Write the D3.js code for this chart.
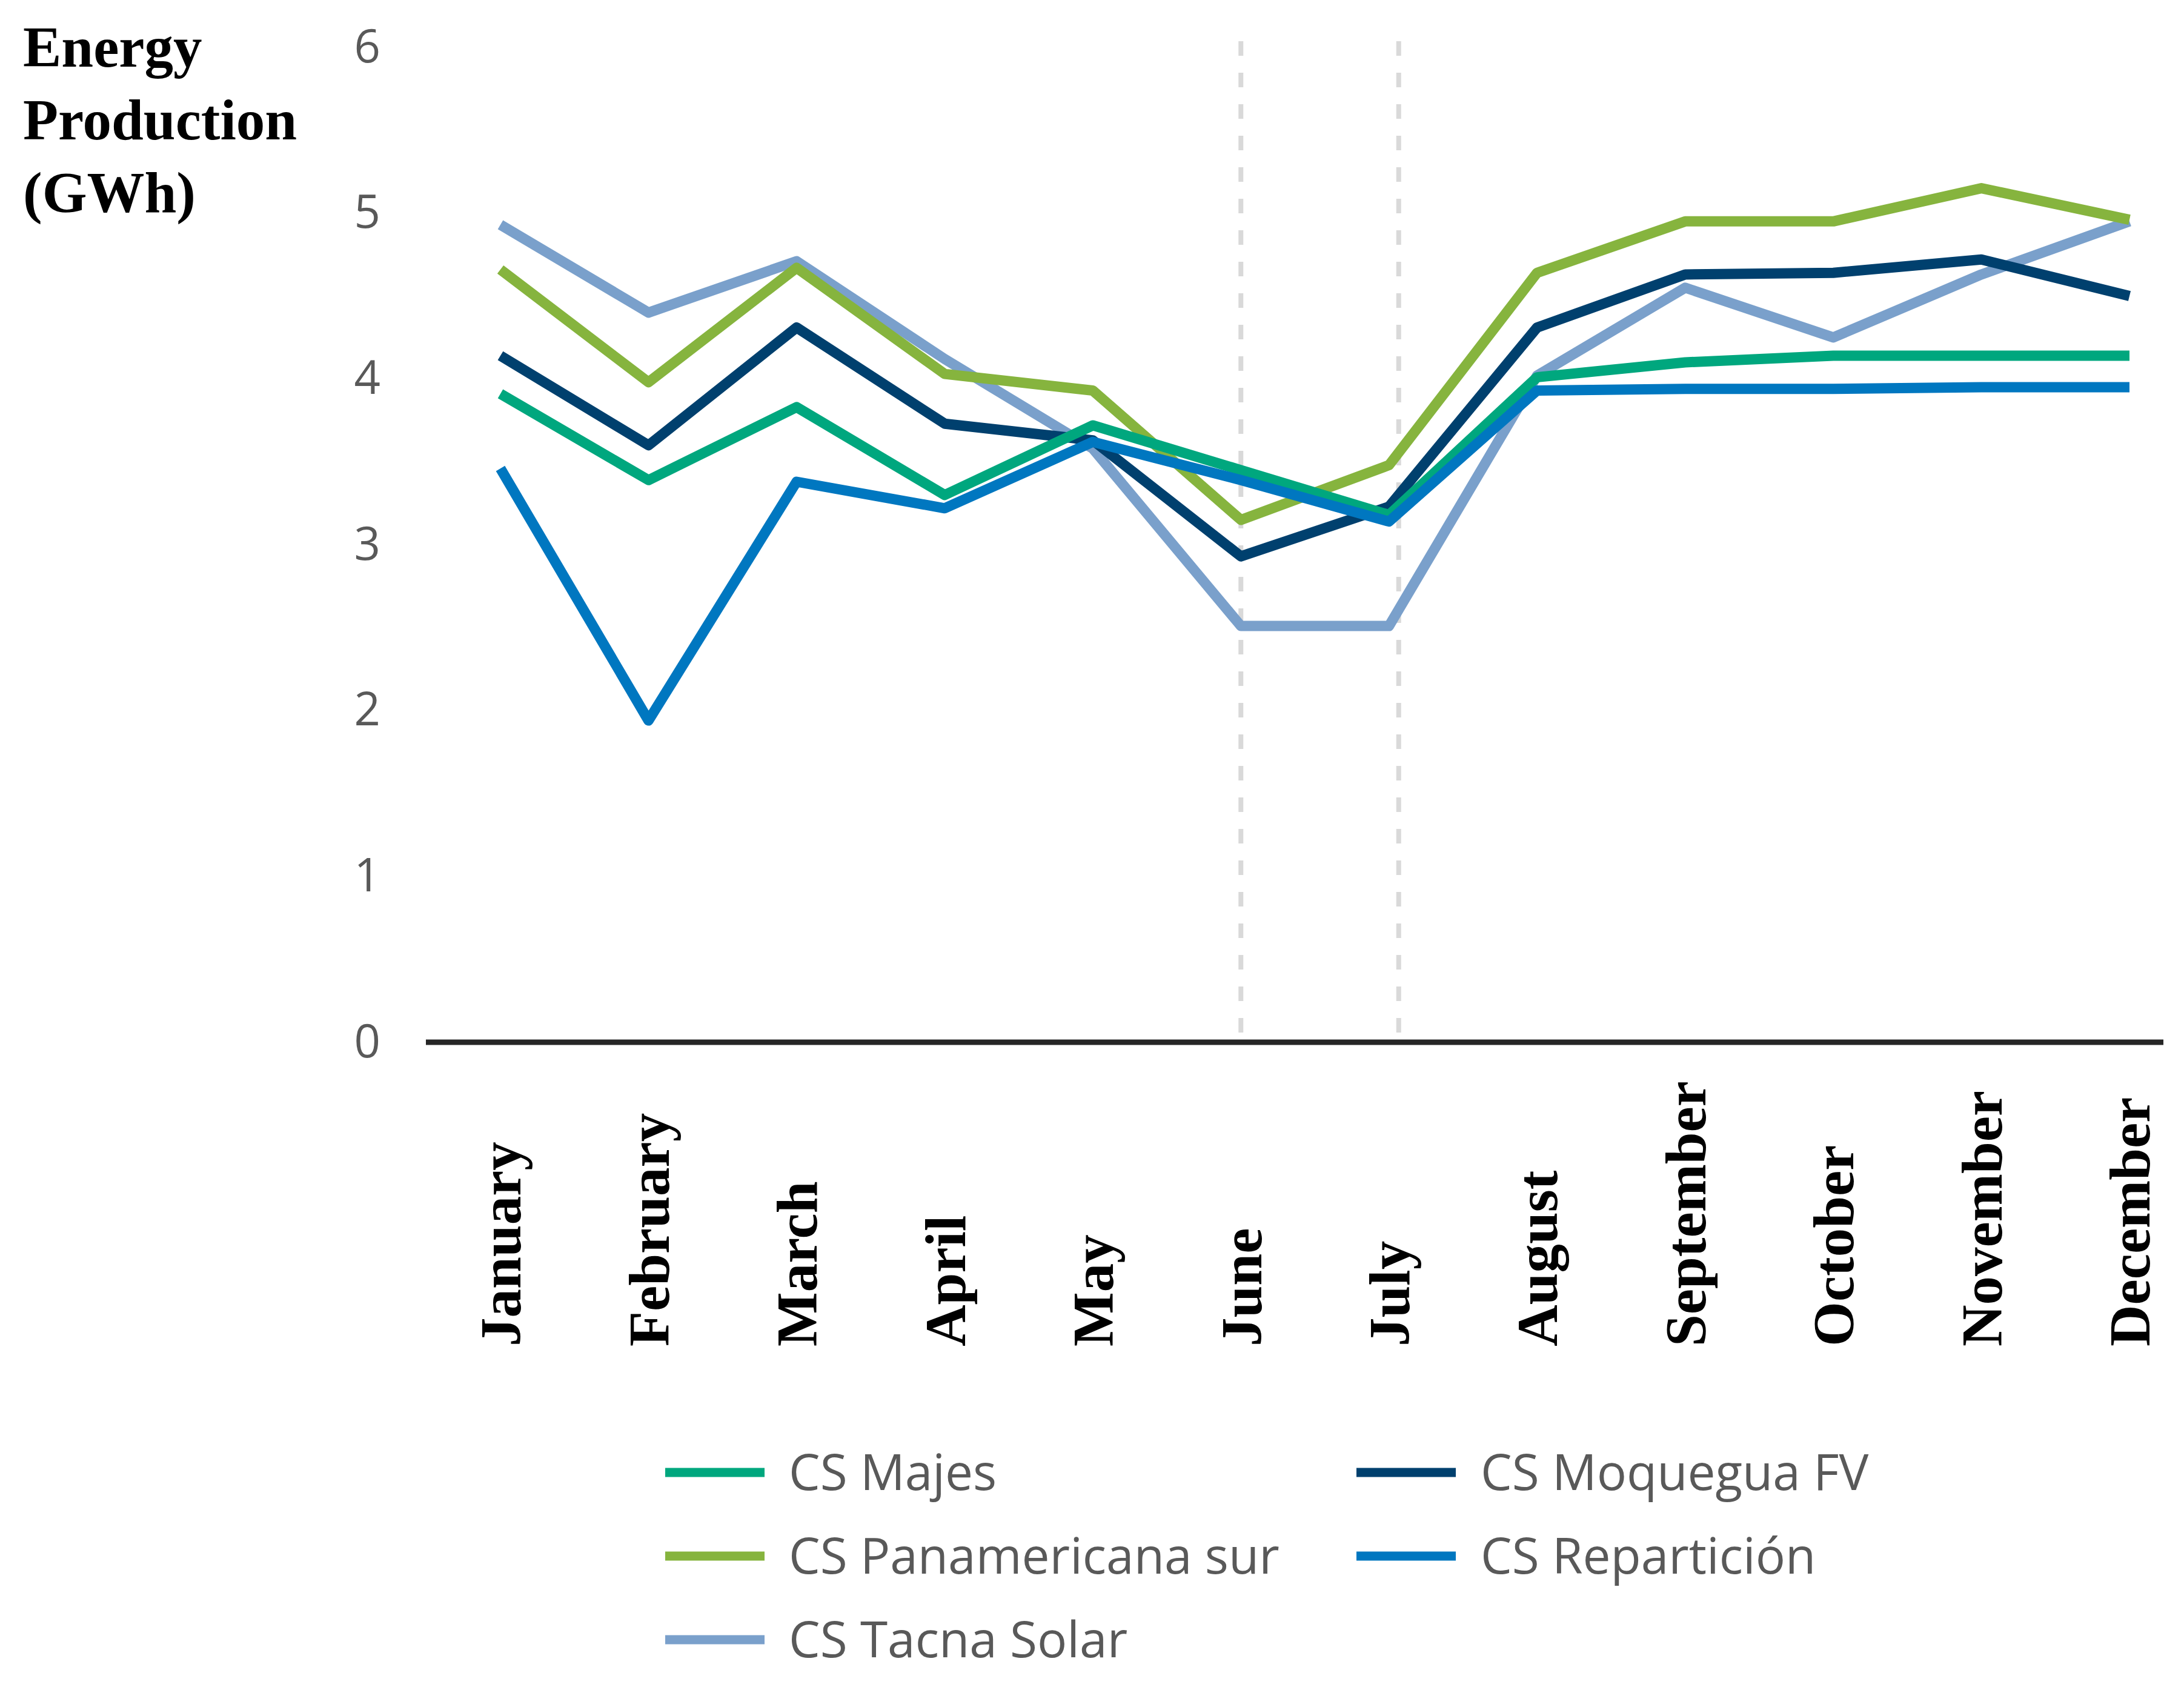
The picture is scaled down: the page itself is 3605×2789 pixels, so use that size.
<!DOCTYPE html>
<html>
<head>
<meta charset="utf-8">
<script src="https://cdn.jsdelivr.net/npm/d3@7"></script>
<style>
  body { margin: 0; background: #fff; }
</style>
</head>
<body>
<svg id="chart" width="3605" height="2789"></svg>
<script>
const months = ['January', 'February', 'March', 'April', 'May', 'June', 'July',
  'August', 'September', 'October', 'November', 'December'];

const majes = [3.91, 3.39, 3.83, 3.30, 3.72, 3.45, 3.18, 4.01, 4.10, 4.14, 4.14, 4.14];
const moquegua = [4.14, 3.60, 4.31, 3.73, 3.63, 2.93, 3.23, 4.31, 4.63, 4.64, 4.72, 4.50];
const panamericana = [4.66, 3.98, 4.67, 4.03, 3.93, 3.15, 3.48, 4.64, 4.95, 4.95, 5.15, 4.96];
const reparticion = [3.46, 1.94, 3.38, 3.22, 3.62, 3.39, 3.14, 3.93, 3.94, 3.94, 3.95, 3.95];
const tacna = [4.93, 4.40, 4.71, 4.12, 3.58, 2.51, 2.51, 4.02, 4.55, 4.25, 4.63, 4.95];

const yTicks = [0, 1, 2, 3, 4, 5, 6];
const markedMonths = ['June', 'July'];

const series = [
  { name: 'CS Majes', values: majes, color: '#00a77e' },
  { name: 'CS Moquegua FV', values: moquegua, color: '#00406e' },
  { name: 'CS Panamericana sur', values: panamericana, color: '#86b43e' },
  { name: 'CS Repartición', values: reparticion, color: '#0077c0' },
  { name: 'CS Tacna Solar', values: tacna, color: '#7aa0cb' }
];
// drawing order (back to front)
const drawOrder = ['CS Tacna Solar', 'CS Panamericana sur', 'CS Moquegua FV', 'CS Majes', 'CS Repartición'];

const svg = d3.select('#chart');
svg.append('rect').attr('width', 3605).attr('height', 2789).attr('fill', '#fff');

const x = d3.scalePoint().domain(months).range([826, 3515]);
const y = d3.scaleLinear().domain([0, 6]).range([1720, 78]);

// dashed reference lines
svg.append('g')
  .selectAll('line')
  .data(markedMonths)
  .enter()
  .append('line')
  .attr('x1', (d, i) => x(d) + (i === 1 ? 16 : 0))
  .attr('x2', (d, i) => x(d) + (i === 1 ? 16 : 0))
  .attr('y1', 68)
  .attr('y2', y(0))
  .attr('stroke', '#d9d9d9')
  .attr('stroke-width', 8)
  .attr('stroke-dasharray', '24 28');

// y axis
const yAxis = d3.axisLeft(y).tickValues(yTicks).tickFormat(d3.format('d')).tickSize(0).tickPadding(12);
svg.append('g')
  .attr('transform', 'translate(640,0)')
  .call(yAxis)
  .call(g => g.select('.domain').remove())
  .selectAll('text')
  .attr('font-family', '"Open Sans", sans-serif')
  .attr('font-size', 76)
  .attr('fill', '#595959');

// x axis line
svg.append('line')
  .attr('x1', 703)
  .attr('x2', 3571)
  .attr('y1', y(0))
  .attr('y2', y(0))
  .attr('stroke', '#262626')
  .attr('stroke-width', 9);

// month labels
svg.append('g')
  .selectAll('text')
  .data(months)
  .enter()
  .append('text')
  .attr('transform', d => `translate(${x(d)},2222) rotate(-90)`)
  .attr('dy', '0.35em')
  .attr('text-anchor', 'start')
  .attr('font-family', '"Liberation Serif", serif')
  .attr('font-weight', 'bold')
  .attr('font-size', 95)
  .attr('fill', '#000')
  .text(d => d);

// lines
const line = d3.line()
  .x((d, i) => x(months[i]))
  .y(d => y(d));

svg.append('g')
  .selectAll('path')
  .data(drawOrder.map(n => series.find(s => s.name === n)))
  .enter()
  .append('path')
  .attr('d', d => line(d.values))
  .attr('fill', 'none')
  .attr('stroke', d => d.color)
  .attr('stroke-width', 17)
  .attr('stroke-linejoin', 'round')
  .attr('stroke-linecap', 'butt');

// y title
const title = svg.append('text')
  .attr('font-family', '"Liberation Serif", serif')
  .attr('font-weight', 'bold')
  .attr('font-size', 95)
  .attr('fill', '#000');
['Energy', 'Production', '(GWh)'].forEach((t, i) => {
  title.append('tspan').attr('x', 38).attr('y', 110 + i * 120).text(t);
});

// legend
const legendX = [1098, 2239];
const legendY = [2430, 2568, 2706];
const legend = svg.append('g')
  .selectAll('g')
  .data(series)
  .enter()
  .append('g')
  .attr('transform', (d, i) => `translate(${legendX[i % 2]},${legendY[Math.floor(i / 2)]})`);

legend.append('line')
  .attr('x1', 0)
  .attr('x2', 164)
  .attr('stroke', d => d.color)
  .attr('stroke-width', 15);

legend.append('text')
  .attr('x', (d, i) => i % 2 === 0 ? 204 : 205)
  .attr('dy', '0.35em')
  .attr('font-family', '"Open Sans", sans-serif')
  .attr('font-size', 82)
  .attr('fill', '#595959')
  .text(d => d.name);
</script>
</body>
</html>
